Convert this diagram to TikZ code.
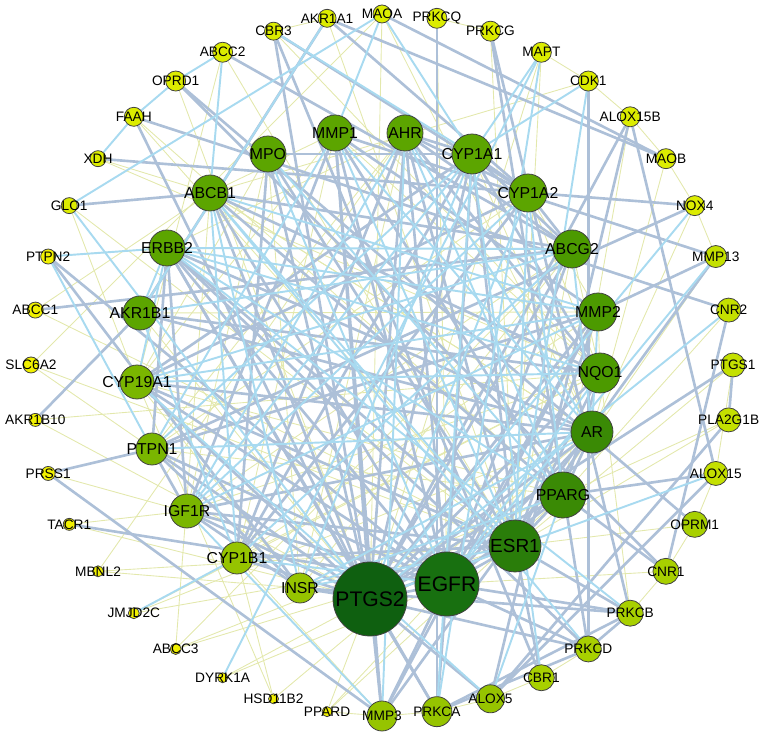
\documentclass[tikz,border=0pt]{standalone}
\usepackage{fontspec}
\setmainfont{Liberation Sans}
\usetikzlibrary{backgrounds}
\definecolor{gA}{HTML}{F0F000}
\definecolor{gB}{HTML}{DCEC00}
\definecolor{gC}{HTML}{C4E000}
\definecolor{gD}{HTML}{A8D000}
\definecolor{gE}{HTML}{96C400}
\definecolor{gF}{HTML}{7AB600}
\definecolor{gG}{HTML}{5CA500}
\definecolor{gH}{HTML}{4C9A00}
\definecolor{gI}{HTML}{3A8A05}
\definecolor{gJ}{HTML}{2A7D0A}
\definecolor{gK}{HTML}{187010}
\definecolor{gL}{HTML}{0F6010}
\definecolor{edgeA}{HTML}{ADC0D8}
\definecolor{edgeB}{HTML}{A8DAF0}
\definecolor{edgeC}{HTML}{E3E8AC}

\begin{document}
\begin{tikzpicture}[x=0.02cm, y=-0.02cm,
  gene/.style={circle, draw=black!75, line width=0.45pt, inner sep=0pt},
  outlbl/.style={label={[font=\fontsize{7.8}{9}\selectfont]center:#1}},
  inlbl/.style={label={[font=\fontsize{9}{10}\selectfont]center:#1}},
  biglbl/.style={label={[font=\fontsize{10.8}{12}\selectfont]center:#1}},
  hublbl/.style={label={[font=\fontsize{12}{14}\selectfont]center:#1}},
  thickedge/.style={draw=edgeA, line width=1.5pt},
  blueedge/.style={draw=edgeB, line width=1.1pt},
  paleedge/.style={draw=edgeC, line width=0.5pt}]
\useasboundingbox (0,0) rectangle (765,739);

\foreach \n/\r/\c [count=\i from 0] in {MAOA/9/gB, PRKCQ/10/gB, PRKCG/10/gB, MAPT/10/gB, CDK1/10/gB, ALOX15B/10/gB, MAOB/10/gB, NOX4/10/gB, MMP13/11/gC, CNR2/12/gC, PTGS1/12/gC, PLA2G1B/12/gC, ALOX15/12/gC, OPRM1/13/gD, CNR1/13/gD, PRKCB/13/gD, PRKCD/13/gD, CBR1/13/gD, ALOX5/14/gE, PRKCA/15/gE, MMP3/15/gE, PPARD/5/gA, HSD11B2/5/gA, DYRK1A/5/gA, ABCC3/5.5/gA, JMJD2C/5.5/gA, MBNL2/5.5/gA, TACR1/6/gA, PRSS1/7/gA, AKR1B10/6.5/gA, SLC6A2/8/gA, ABCC1/8/gA, PTPN2/7.5/gA, GLO1/8/gB, XDH/8/gB, FAAH/9.5/gB, OPRD1/10/gB, ABCC2/10/gB, CBR3/9/gB, AKR1A1/9/gB}
  \node[gene, minimum size=\r*0.4mm, fill=\c, outlbl=\n] (\n) at ({382+351*cos(9*\i-90)}, {365+351*sin(9*\i-90)}) {};

\node[gene, minimum size=18*0.4mm, fill=gG, inlbl=MPO] (MPO) at (268,154) {};
\node[gene, minimum size=18*0.4mm, fill=gG, inlbl=MMP1] (MMP1) at (335,133) {};
\node[gene, minimum size=18*0.4mm, fill=gG, inlbl=AHR] (AHR) at (405,133) {};
\node[gene, minimum size=20*0.4mm, fill=gG, inlbl=CYP1A1] (CYP1A1) at (472,154) {};
\node[gene, minimum size=19*0.4mm, fill=gG, inlbl=CYP1A2] (CYP1A2) at (528,193) {};
\node[gene, minimum size=19*0.4mm, fill=gH, inlbl=ABCG2] (ABCG2) at (572,249) {};
\node[gene, minimum size=19*0.4mm, fill=gH, inlbl=MMP2] (MMP2) at (598,312) {};
\node[gene, minimum size=20*0.4mm, fill=gH, inlbl=NQO1] (NQO1) at (600,373) {};
\node[gene, minimum size=21*0.4mm, fill=gI, inlbl=AR] (AR) at (592,432) {};
\node[gene, minimum size=23*0.4mm, fill=gI, inlbl=PPARG] (PPARG) at (563,495) {};
\node[gene, minimum size=26*0.4mm, fill=gJ, biglbl=ESR1] (ESR1) at (515,546) {};
\node[gene, minimum size=32*0.4mm, fill=gK, hublbl=EGFR] (EGFR) at (447,584) {};
\node[gene, minimum size=37*0.4mm, fill=gL, hublbl=PTGS2] (PTGS2) at (370,599) {};
\node[gene, minimum size=15*0.4mm, fill=gE, inlbl=INSR] (INSR) at (300,588) {};
\node[gene, minimum size=16*0.4mm, fill=gE, inlbl=CYP1B1] (CYP1B1) at (237,558) {};
\node[gene, minimum size=17*0.4mm, fill=gF, inlbl=IGF1R] (IGF1R) at (187,511) {};
\node[gene, minimum size=16*0.4mm, fill=gF, inlbl=PTPN1] (PTPN1) at (152,449) {};
\node[gene, minimum size=17*0.4mm, fill=gF, inlbl=CYP19A1] (CYP19A1) at (137,382) {};
\node[gene, minimum size=17*0.4mm, fill=gG, inlbl=AKR1B1] (AKR1B1) at (140,313) {};
\node[gene, minimum size=18*0.4mm, fill=gG, inlbl=ERBB2] (ERBB2) at (167,248) {};
\node[gene, minimum size=18*0.4mm, fill=gG, inlbl=ABCB1] (ABCB1) at (210,193) {};

\begin{pgfonlayer}{background}
\foreach \a/\b in {MBNL2/ESR1, MBNL2/AHR, MBNL2/INSR, ABCC3/ABCG2, ABCC3/ABCB1, ABCC3/ESR1, HSD11B2/CYP19A1, HSD11B2/AR, HSD11B2/CYP1B1, PPARD/PPARG, PPARD/PTGS2, PPARD/EGFR, SLC6A2/MAOA, SLC6A2/PTGS2, SLC6A2/ESR1, TACR1/IGF1R, TACR1/PTGS2, DYRK1A/PTGS2, DYRK1A/EGFR, JMJD2C/AR, JMJD2C/ESR1, AKR1B10/NQO1, AKR1B10/PTGS2, PRSS1/EGFR, PTPN2/ERBB2, ABCC1/ABCB1, ABCC1/ESR1, GLO1/ESR1, XDH/ABCB1, FAAH/PPARG, OPRD1/PTGS2, ABCC2/ESR1, ABCC2/CYP19A1, CBR3/AKR1A1, CBR3/NQO1, AKR1A1/ESR1, MAOA/AR, MAOA/PTGS2, PRKCQ/EGFR, PRKCG/ESR1, PRKCG/PRKCQ, MAPT/CDK1, MAPT/ESR1, MAPT/PTGS2, CDK1/ALOX15B, CDK1/ABCB1, ALOX15B/MAOB, ALOX15B/PPARG, MAOB/AR, MAOB/NOX4, NOX4/MMP13, NOX4/PPARG, MMP13/ESR1, CNR2/PPARG, PTGS1/ESR1, PTGS1/ALOX15, PLA2G1B/PPARG, PLA2G1B/ESR1, ALOX15/OPRM1, OPRM1/CNR1, OPRM1/ESR1, CNR1/EGFR, CNR1/PRKCB, PRKCB/NQO1, PRKCD/CBR1, CBR1/ALOX5, ALOX5/PRKCA, PRKCA/MMP3, MMP3/PPARD, MMP3/CYP1B1, MPO/INSR, MPO/CYP19A1, MPO/IGF1R, MMP1/CYP1B1, MMP1/NQO1, AHR/INSR, AHR/PTPN1, CYP1A1/AR, CYP1A2/NQO1, CYP1A2/MMP2, ABCG2/NQO1, ABCG2/INSR, MMP2/NQO1, MMP2/CYP1B1, NQO1/IGF1R, AR/ABCB1, PPARG/CYP19A1, PPARG/PTPN1, ESR1/ABCG2, EGFR/MPO, PTGS2/AKR1B1, INSR/CYP19A1, CYP1B1/NQO1, IGF1R/ABCG2, PTPN1/CYP1A2, CYP19A1/MMP1, AKR1B1/MMP2, ERBB2/AHR, ABCB1/AR, ABCB1/MMP1, GLO1/CYP19A1, XDH/NQO1, FAAH/ESR1, JMJD2C/NQO1, ABCC3/PPARG}
  \draw[paleedge] (\a) -- (\b);
\foreach \a/\b in {PTGS2/EGFR, PTGS2/ESR1, PTGS2/PPARG, PTGS2/AR, PTGS2/NQO1, PTGS2/MMP2, PTGS2/ABCG2, PTGS2/CYP1A1, PTGS2/AHR, PTGS2/MMP1, PTGS2/MPO, PTGS2/ABCB1, PTGS2/ERBB2, PTGS2/CYP19A1, PTGS2/PTPN1, PTGS2/IGF1R, PTGS2/INSR, PTGS2/CYP1B1, PTGS2/MMP3, PTGS2/PRKCA, PTGS2/ALOX5, PTGS2/PTGS1, PTGS2/CBR3, PTGS2/FAAH, PTGS2/ALOX15B, PTGS2/PRKCD, EGFR/ESR1, EGFR/PPARG, EGFR/AR, EGFR/ERBB2, EGFR/IGF1R, EGFR/PTPN1, EGFR/MMP2, EGFR/MMP1, EGFR/ABCG2, EGFR/AHR, EGFR/PRKCA, EGFR/PRKCD, EGFR/PRKCB, EGFR/MMP3, EGFR/TACR1, EGFR/PTPN2, EGFR/CYP1A1, EGFR/ABCB1, EGFR/CYP19A1, ESR1/AR, ESR1/PPARG, ESR1/CYP19A1, ESR1/CYP1B1, ESR1/CYP1A1, ESR1/AHR, ESR1/ERBB2, ESR1/IGF1R, ESR1/PRKCB, ESR1/NQO1, ESR1/MMP2, ESR1/MPO, ESR1/CBR1, AR/PPARG, AR/CYP19A1, AR/AKR1B1, AR/ERBB2, AR/IGF1R, PPARG/NQO1, PPARG/MMP1, PPARG/ABCB1, PPARG/CNR1, PPARG/ALOX15, CYP1A1/CYP1A2, CYP1A1/AHR, CYP1A1/CYP1B1, CYP1A1/NQO1, CYP1A1/ABCG2, CYP1A1/CYP19A1, CYP1A1/MPO, CYP1A2/AHR, CYP1A2/CYP1B1, CYP1A2/ABCG2, CYP1A2/AKR1A1, CYP1A2/CYP19A1, AHR/NQO1, AHR/CYP1B1, AHR/ABCG2, MMP1/MMP2, MMP1/MMP3, MMP1/MMP13, MMP1/IGF1R, MMP2/MMP3, MMP2/MMP13, MMP2/PTPN1, ABCB1/ABCG2, ABCB1/GLO1, ABCB1/NQO1, ABCC1/ABCG2, ERBB2/IGF1R, ERBB2/PTPN1, ERBB2/PRKCA, ERBB2/PRKCD, IGF1R/INSR, IGF1R/PTPN1, INSR/PTPN1, INSR/PRKCB, AKR1B1/AKR1B10, AKR1B1/NQO1, AKR1B1/AKR1A1, OPRD1/OPRM1, OPRD1/CNR1, FAAH/CNR2, MAOA/MAOB, PRKCQ/PRKCA, PRKCG/PRKCB, PRKCG/PRKCD, CDK1/PRKCD, ALOX15B/ALOX5, ALOX15B/ALOX15, XDH/NOX4, PRSS1/PTPN1, PRSS1/MMP3, CBR3/CBR1, ABCC2/ABCG2, PTGS1/PLA2G1B, CNR2/CNR1, PRKCA/PRKCB, PRKCA/PRKCD, PRKCB/PRKCD, ALOX5/ALOX15, ALOX5/PLA2G1B, MMP13/MMP3, PTPN2/INSR, NOX4/PTPN1, MPO/CYP1B1, AKR1A1/MAOB, CBR3/CYP1A2}
  \draw[thickedge] (\a) -- (\b);
\foreach \a/\b in {GLO1/MAOA, GLO1/PTGS2, PTPN2/PTPN1, JMJD2C/CYP1B1, DYRK1A/MAPT, MAPT/CYP1A1, CDK1/CYP1A1, CDK1/ESR1, NOX4/PTGS2, ALOX15/PTGS2, MMP13/EGFR, CNR2/PTGS2, ABCC2/ABCB1, CBR3/CYP1A1, MAOA/MMP1, AKR1A1/AKR1B1, FAAH/OPRD1, OPRD1/ABCC2, XDH/FAAH, MPO/PPARG, MPO/EGFR, MMP1/ESR1, MMP1/AR, AHR/PPARG, AHR/AR, CYP1A1/INSR, CYP1A1/PTPN1, CYP1A1/IGF1R, CYP1A2/ESR1, CYP1A2/PTGS2, CYP1A2/PPARG, ABCG2/AR, ABCG2/ERBB2, ABCG2/CYP19A1, MMP2/ERBB2, MMP2/IGF1R, MMP2/AR, NQO1/CYP19A1, NQO1/ERBB2, AR/INSR, PPARG/INSR, PPARG/ERBB2, ESR1/INSR, ESR1/ABCB1, EGFR/CYP1B1, EGFR/NQO1, INSR/ABCB1, CYP1B1/AKR1B1, CYP1B1/ABCG2, IGF1R/AHR, IGF1R/CYP1A2, PTPN1/MMP1, PTPN1/AR, CYP19A1/MMP2, CYP19A1/ALOX5, AKR1B1/ABCG2, ERBB2/AKR1B1, ERBB2/CYP19A1, ABCB1/CYP1B1, ABCB1/MMP2, CBR1/CYP1A1, PRKCA/CYP1A1, PRKCB/ERBB2, PRKCD/ABCB1, ALOX5/PPARG, MMP3/IGF1R, MMP3/AHR, MAPT/PRKCA, PTPN2/ERBB2, MAOA/CYP1A1}
  \draw[blueedge] (\a) -- (\b);
\end{pgfonlayer}
\end{tikzpicture}
\end{document}
